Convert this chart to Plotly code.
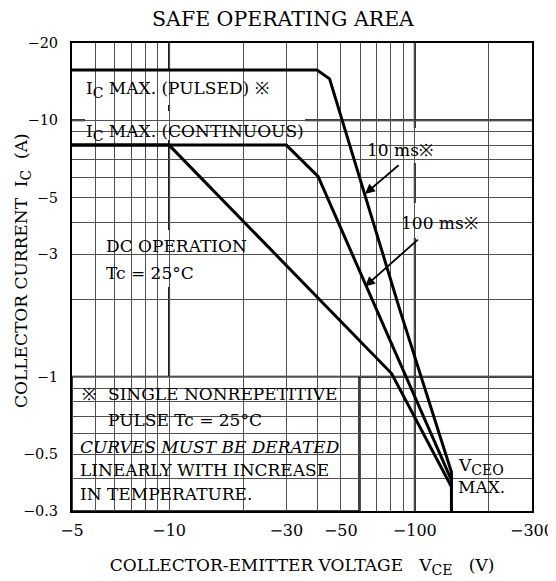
import numpy as np
import plotly.graph_objects as go

# ---- data (values as printed on the chart, in V and A) ----
vce_10ms = [-4.0, -40.0, -45.0, -87.0, -141.0, -141.0]
ic_10ms = [-15.7, -15.7, -14.5, -1.82, -0.426, -0.30]

vce_100ms = [-4.0, -30.0, -40.4, -141.0]
ic_100ms = [-8.0, -8.0, -6.04, -0.396]

vce_dc = [-4.0, -10.0, -80.5, -141.0]
ic_dc = [-8.0, -8.0, -1.03, -0.373]

x_tick_vals = [4.025, 10, 30, 50, 100, 300]
x_tick_text = ["\u22125", "\u221210", "\u221230", "\u221250", "\u2212100", "\u2212300"]
x_minor_vals = [5, 6, 7, 8, 9, 20, 40, 60, 70, 80, 90, 200]
x_major_grid = [10, 100]

y_tick_vals = [0.3, 0.5, 1, 3, 5, 10, 20]
y_tick_text = ["\u22120.3", "\u22120.5", "\u22121", "\u22123", "\u22125", "\u221210", "\u221220"]
y_minor_vals = [0.4, 0.6, 0.7, 0.8, 0.9, 2, 4, 6, 7, 8, 9]
y_major_grid = [1, 10]

FONT = "DejaVu Serif"
OFF = 8  # page body margin
W, H = 548, 573
ML, MR, MT, MB = 64, 24, 35, 70
PW, PH = W - ML - MR, H - MT - MB
GRID = "#505050"


def px(xp):
    # page pixel -> paper x
    return (xp - OFF - ML) / PW


def py(yp):
    # page pixel -> paper y
    return (OFF + MT + PH - yp) / PH


def sub(t, size=14):
    return '<sub><span style="font-size:%dpx">%s</span></sub>' % (size, t)


fig = go.Figure()
for v, i in [(vce_dc, ic_dc), (vce_100ms, ic_100ms), (vce_10ms, ic_10ms)]:
    fig.add_trace(go.Scatter(
        x=np.abs(v), y=np.abs(i), mode="lines",
        line=dict(color="black", width=3),
        hoverinfo="skip", showlegend=False))

shapes = []
for xv in x_major_grid:
    shapes.append(dict(type="line", xref="x", yref="paper", x0=xv, x1=xv, y0=0, y1=1,
                       line=dict(color="black", width=2), layer="between"))
for yv in y_major_grid:
    shapes.append(dict(type="line", xref="paper", yref="y", x0=0, x1=1, y0=yv, y1=yv,
                       line=dict(color="black", width=2), layer="between"))

# white label backgrounds (page-pixel boxes)
boxes = [
    (73, 71, 280, 105),
    (85, 111, 305, 140),
    (363, 128, 437, 163),
    (398, 203, 483, 238),
    (97, 230, 255, 287),
    (453.5, 446, 515, 498),
]
for x0, y0, x1, y1 in boxes:
    shapes.append(dict(type="rect", xref="paper", yref="paper",
                       x0=px(x0), x1=px(x1), y0=py(y1), y1=py(y0),
                       fillcolor="white", line=dict(width=0), layer="between"))
# note box
shapes.append(dict(type="rect", xref="paper", yref="paper",
                   x0=0, x1=px(359), y0=0, y1=py(376.7),
                   fillcolor="white", line=dict(color="black", width=1.5), layer="between"))

ann = []


def A(text, x, y, xanchor="left", size=17, angle=0):
    ann.append(dict(text=text, xref="paper", yref="paper", x=px(x), y=py(y),
                    xanchor=xanchor, yanchor="middle", showarrow=False, borderpad=0,
                    textangle=angle,
                    font=dict(family=FONT, size=size, color="black")))


A("I" + sub("C") + " MAX. (PULSED) \u203b", 85, 90)
A("I" + sub("C") + " MAX. (CONTINUOUS)", 85, 132)
A("10 ms\u203b", 400, 150, "center")
A("100 ms\u203b", 439, 223, "center")
A("DC OPERATION", 105, 246)
A("Tc = 25\u00b0C", 105, 273)
A("\u203b", 89, 394, "center")
A("SINGLE NONREPETITIVE", 107, 394)
A("PULSE Tc = 25\u00b0C", 107, 420)
A("<i>CURVES MUST BE DERATED</i>", 79, 447)
A("LINEARLY WITH INCREASE", 79, 470)
A("IN TEMPERATURE.", 79, 494)
A("V" + sub("CEO"), 457, 466)
A("MAX.", 457, 487)
# y-axis title
A("COLLECTOR CURRENT\u00a0\u00a0I" + sub("C") + "\u00a0\u00a0(A)", 22, 271, "center", 17, -90)

# arrows (log10 coordinates on log axes)
for tip, tail in [((1.7975, 0.7128), (1.9401, 0.8296)),
                  ((1.7975, 0.3521), (2.0187, 0.5401))]:
    ann.append(dict(text="", x=tip[0], y=tip[1], xref="x", yref="y",
                    ax=tail[0], ay=tail[1], axref="x", ayref="y",
                    showarrow=True, arrowhead=2, arrowsize=1.1, arrowwidth=1.8,
                    arrowcolor="black"))

fig.update_layout(
    width=W, height=H,
    margin=dict(l=ML, r=MR, t=MT, b=MB, autoexpand=False),
    paper_bgcolor="white", plot_bgcolor="white",
    font=dict(family=FONT, color="black"),
    title=dict(text="SAFE OPERATING AREA", x=(283 - OFF) / W, xanchor="center",
               y=1 - (18.5 - OFF) / H, yanchor="middle", automargin=False,
               font=dict(family=FONT, size=20.5, color="black")),
    shapes=shapes, annotations=ann,
    xaxis=dict(type="log", range=[np.log10(4.025), np.log10(300)], automargin=False,
               tickmode="array", tickvals=x_tick_vals, ticktext=x_tick_text,
               tickfont=dict(family=FONT, size=16, color="black"),
               showgrid=True, gridcolor=GRID, gridwidth=1,
               minor=dict(tickmode="array", tickvals=x_minor_vals, showgrid=True,
                          gridcolor=GRID, gridwidth=1, ticks=""),
               showline=True, linecolor="black", linewidth=2, mirror=True,
               ticks="", zeroline=False, ticklabelstandoff=4,
               title=dict(text="COLLECTOR-EMITTER VOLTAGE\u00a0\u00a0\u00a0V" + sub("CE")
                          + "\u00a0\u00a0\u00a0(V)\u00a0\u00a0",
                          font=dict(family=FONT, size=17, color="black"), standoff=20)),
    yaxis=dict(type="log", range=[np.log10(0.3), np.log10(20)], automargin=False,
               tickmode="array", tickvals=y_tick_vals, ticktext=y_tick_text,
               tickfont=dict(family=FONT, size=14.5, color="black"),
               showgrid=True, gridcolor=GRID, gridwidth=1,
               minor=dict(tickmode="array", tickvals=y_minor_vals, showgrid=True,
                          gridcolor=GRID, gridwidth=1, ticks=""),
               showline=True, linecolor="black", linewidth=2, mirror=True,
               ticks="", zeroline=False, ticklabelstandoff=9),
)

fig.write_html("out.html")
